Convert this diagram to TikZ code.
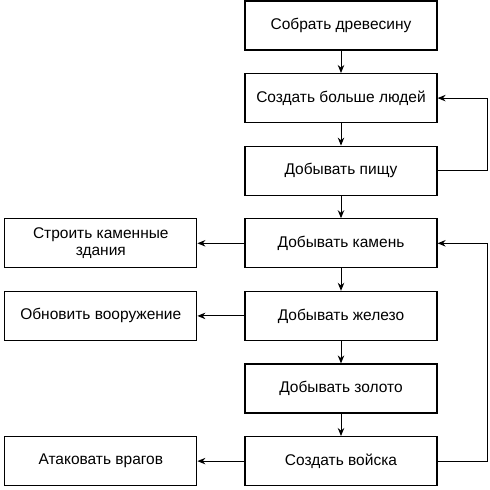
\documentclass[tikz,border=0pt]{standalone}
\usepackage{fontspec}
\setmainfont{Liberation Sans}
\usetikzlibrary{positioning,arrows.meta}
\tikzset{%
    stepbox/.style={%
        draw, line width=1.2pt, minimum width=192pt, minimum height=49pt,
        align=center, inner sep=2pt, font=\fontsize{15.5}{17.5}\selectfont
    },
    flow/.style={-{Stealth[length=8pt,width=6.5pt]}, line width=1pt}
}
\begin{document}
\begin{tikzpicture}[x=1pt,y=1pt, node distance=22.4pt and 47pt]
    \useasboundingbox (0,0) rectangle (490,-490);
%-----------------------------------------------
    \node[stepbox] (wood) at (341,-25.5) {Собрать древесину};
    \node[stepbox, below=of wood] (people) {Создать больше людей};
    \node[stepbox, below=of people] (food) {Добывать пищу};
    \node[stepbox, below=of food] (stone) {Добывать камень};
    \node[stepbox, below=of stone] (iron) {Добывать железо};
    \node[stepbox, below=of iron] (gold) {Добывать золото};
    \node[stepbox, below=of gold] (troops) {Создать войска};
%-----------------------------------------------
    \node[stepbox, left=of stone] (build) {Строить каменные\\здания};
    \node[stepbox, left=of iron] (weapons) {Обновить вооружение};
    \node[stepbox, left=of troops] (attack) {Атаковать врагов};
%-----------------------------------------------
    \draw[flow] (wood) -- (people);
    \draw[flow] (people) -- (food);
    \draw[flow] (food) -- (stone);
    \draw[flow] (stone) -- (iron);
    \draw[flow] (iron) -- (gold);
    \draw[flow] (gold) -- (troops);
%-----------------------------------------------
    \draw[flow] (stone) -- (build);
    \draw[flow] (iron) -- (weapons);
    \draw[flow] (troops) -- (attack);
%-----------------------------------------------
    \draw[flow] (food.east) -- ++(50,0) |- (people.east);
    \draw[flow] (troops.east) -- ++(50,0) |- (stone.east);
\end{tikzpicture}
\end{document}
